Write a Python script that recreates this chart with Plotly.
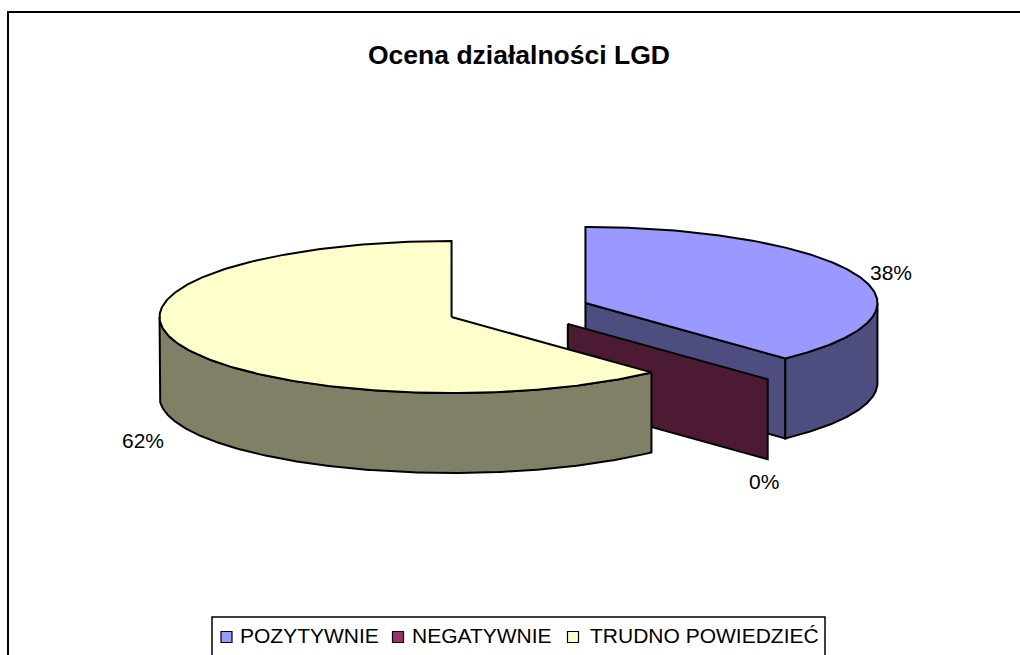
import numpy as np
import plotly.graph_objects as go

categories = ["POZYTYWNIE", "NEGATYWNIE", "TRUDNO POWIEDZIEĆ"]
values = [38, 0, 62]
tick_labels = ["38%", "0%", "62%"]
top_colors = ["#9999FF", "#993366", "#FFFFCC"]
side_colors = ["#4D4D80", "#4D1A33", "#808066"]

CX, CY, RX, RY, DEPTH, EX, EY = 518.5, 310, 292, 76, 80, 72, 19
LINE = dict(color="black", width=2)

fractions = np.cumsum([0] + values) / sum(values)
angles = 2 * np.pi * fractions


def centre(i):
    mid = (angles[i] + angles[i + 1]) / 2
    return CX + EX * np.sin(mid), CY - EY * np.cos(mid)


def arc(i, a, b, dz=0):
    cx, cy = centre(i)
    t = np.linspace(a, b, 240)
    return cx + RX * np.sin(t), cy - RY * np.cos(t) + dz


def poly(x, y, color):
    x = list(x) + [x[0]]
    y = list(y) + [y[0]]
    return go.Scatter(x=x, y=y, mode="lines", fill="toself", fillcolor=color,
                      line=LINE, hoverinfo="skip", showlegend=False)


def wall(i, a, b):
    x1, y1 = arc(i, a, b)
    x2, y2 = arc(i, a, b, DEPTH)
    return poly(np.r_[x1, x2[::-1]], np.r_[y1, y2[::-1]], side_colors[i])


def cut(i, a):
    cx, cy = centre(i)
    ex, ey = cx + RX * np.sin(a), cy - RY * np.cos(a)
    return poly([cx, ex, ex, cx], [cy, ey, ey + DEPTH, cy + DEPTH], side_colors[i])


def top(i):
    cx, cy = centre(i)
    x, y = arc(i, angles[i], angles[i + 1])
    return poly(np.r_[cx, x], np.r_[cy, y], top_colors[i])


fig = go.Figure()
fig.add_trace(cut(0, angles[1]))
fig.add_trace(wall(0, np.pi / 2, angles[1]))
fig.add_trace(top(0))
fig.add_trace(cut(1, angles[1]))
fig.add_trace(wall(2, angles[2], 1.5 * np.pi))
fig.add_trace(top(2))

legend_x = [226.5, 398, 573]
text_x = [238, 410, 588]
fig.add_trace(go.Scatter(x=legend_x, y=[637] * 3, mode="markers",
                         marker=dict(symbol="square", size=11, color=top_colors,
                                     line=dict(color="black", width=1.2)),
                         hoverinfo="skip", showlegend=False))

ann = [
    dict(x=519, y=55, text="<b>Ocena działalności LGD</b>", font_size=26.5),
    dict(x=891, y=272, text=tick_labels[0], font_size=21),
    dict(x=764, y=481, text=tick_labels[1], font_size=21),
    dict(x=143, y=440, text=tick_labels[2], font_size=21),
]
for a in ann:
    fig.add_annotation(x=a["x"], y=a["y"], text=a["text"], showarrow=False,
                       font=dict(family="Liberation Sans", size=a["font_size"], color="black"))
for x, t in zip(text_x, categories):
    fig.add_annotation(x=x, y=635, text=t, showarrow=False, xanchor="left",
                       font=dict(family="Liberation Sans", size=21, color="black"))

fig.update_layout(
    width=1020, height=655, margin=dict(l=0, r=0, t=0, b=0),
    paper_bgcolor="white", plot_bgcolor="white", showlegend=False,
    xaxis=dict(range=[0, 1020], visible=False),
    yaxis=dict(range=[655, 0], visible=False),
    shapes=[
        dict(type="rect", x0=8, y0=12, x1=1100, y1=700, line=dict(color="black", width=2),
             layer="below"),
        dict(type="rect", x0=212, y0=617, x1=825, y1=700, line=dict(color="black", width=1.5),
             fillcolor="white", layer="below"),
    ],
)
fig.write_html("out.html", post_script="document.body.style.margin='0';",
               config=dict(displayModeBar=False))
